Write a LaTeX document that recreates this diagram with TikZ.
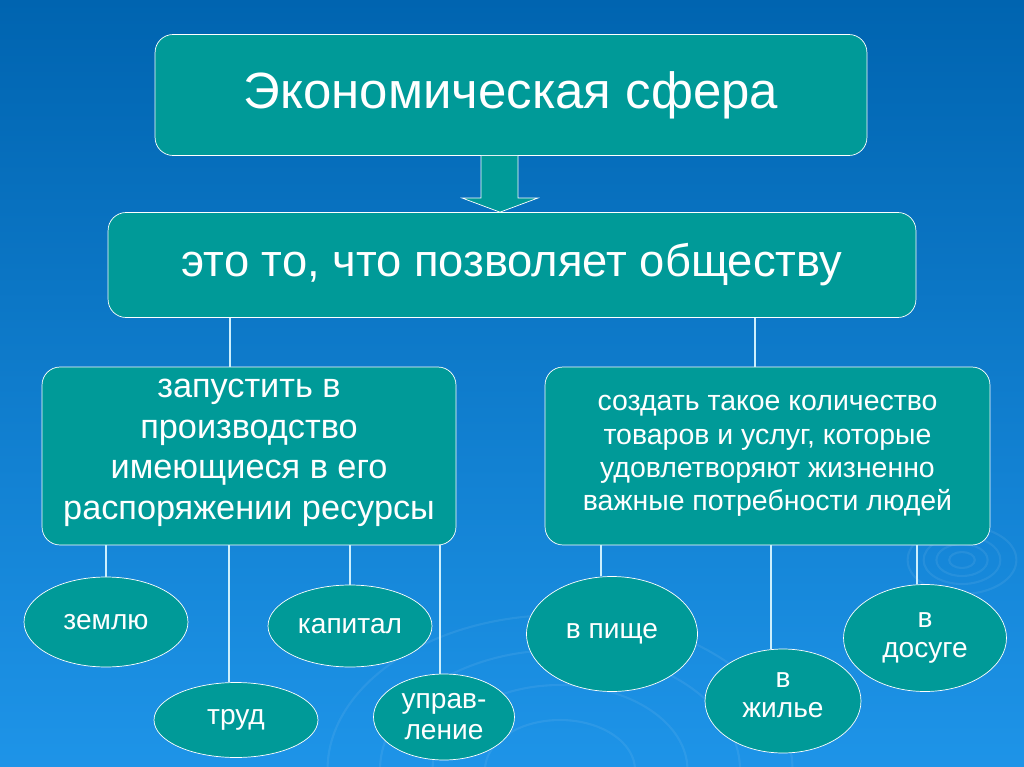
\documentclass[tikz,border=0pt]{standalone}
\usepackage{fontspec}
\setmainfont{Liberation Sans}
\usetikzlibrary{positioning, calc, shapes}

\definecolor{seablue}{HTML}{0064B0}
\definecolor{skyblue}{HTML}{1E94E8}
\definecolor{tealbox}{HTML}{009A98}

\tikzset{
    panel/.style={draw=white, fill=tealbox, rounded corners=0.36cm, text=white, align=center, inner sep=0pt},
    oval/.style={ellipse, draw=white, fill=tealbox, text=white, align=center, inner sep=0pt, font=\fontsize{16}{17.6}\selectfont},
    link/.style={draw=white!80!cyan, line width=0.6pt},
    ripple/.style={draw=white, opacity=0.07, line width=1.2pt}
}

\begin{document}
\begin{tikzpicture}[x=0.02cm, y=-0.02cm]
    % background
    \shade[top color=seablue, bottom color=skyblue] (0,0) rectangle (1024,767);
    \useasboundingbox (0,0) rectangle (1024,767);
    \foreach \r in {8,16,24,34} {
    \draw[ripple] (962,560) ellipse ({\r*1.6} and \r);
    }
    \foreach \r in {50,85,120,155} {
    \draw[ripple] (560,770) ellipse ({\r*1.5} and \r);
    }
    % boxes
    \node[panel, minimum width=14.24cm, minimum height=2.42cm, font=\fontsize{29}{34}\selectfont] (econ) at (511,95) {Экономическая сфера};
    \node[panel, minimum width=16.16cm, minimum height=2.1cm, font=\fontsize{25.8}{30}\selectfont] (def) at (512,265) {это то, что позволяет обществу};
    \node[panel, minimum width=8.28cm, minimum height=3.56cm, font=\fontsize{19.5}{23.3}\selectfont] (launch) at (249,456) {запустить в\\производство\\имеющиеся в его\\распоряжении ресурсы\\[-0.55cm]\mbox{}};
    \node[panel, minimum width=8.9cm, minimum height=3.56cm, font=\fontsize{16.2}{19}\selectfont] (create) at (767.5,456) {создать такое количество\\товаров и услуг, которые\\удовлетворяют жизненно\\важные потребности людей};
    % arrow
    \draw[white, fill=tealbox] (econ.south -| 481,0) -- (481,198) -- (462,198) -- (def.north -| 500,0) -- (538,198) -- (518,198) -- (econ.south -| 518,0);
    % ovals
    \node[oval, minimum width=3.28cm, minimum height=1.8cm] (land) at (106,622) {землю};
    \node[oval, minimum width=3.28cm, minimum height=1.5cm] (labour) at (236,720) {труд};
    \node[oval, minimum width=3.28cm, minimum height=1.64cm] (capital) at (350,626) {капитал};
    \node[oval, minimum width=2.82cm, minimum height=1.72cm] (mgmt) at (444,717) {управ-\\ление};
    \node[oval, minimum width=3.42cm, minimum height=2.3cm] (food) at (612,634) {в пище};
    \node[oval, minimum width=3.12cm, minimum height=2.08cm] (home) at (783,701) {в\\жилье\\[-0.38cm]\mbox{}};
    \node[oval, minimum width=3.26cm, minimum height=2.14cm] (leisure) at (925,638) {в\\досуге};
    % connectors
    \draw[link] ([xshift=-0.38cm]launch.north) -- ([xshift=-0.38cm]launch.north |- def.south);
    \draw[link] ([xshift=-0.25cm]create.north) -- ([xshift=-0.25cm]create.north |- def.south);
    \draw[link] (land.north) -- (land.north |- launch.south);
    \draw[link] ([xshift=-0.14cm]labour.north) -- ([xshift=-0.14cm]labour.north |- launch.south);
    \draw[link] (capital.north) -- (capital.north |- launch.south);
    \draw[link] ([xshift=-0.08cm]mgmt.north) -- ([xshift=-0.08cm]mgmt.north |- launch.south);
    \draw[link] ([xshift=-0.22cm]food.north) -- ([xshift=-0.22cm]food.north |- create.south);
    \draw[link] ([xshift=-0.24cm]home.north) -- ([xshift=-0.24cm]home.north |- create.south);
    \draw[link] ([xshift=-0.16cm]leisure.north) -- ([xshift=-0.16cm]leisure.north |- create.south);
\end{tikzpicture}
\end{document}
